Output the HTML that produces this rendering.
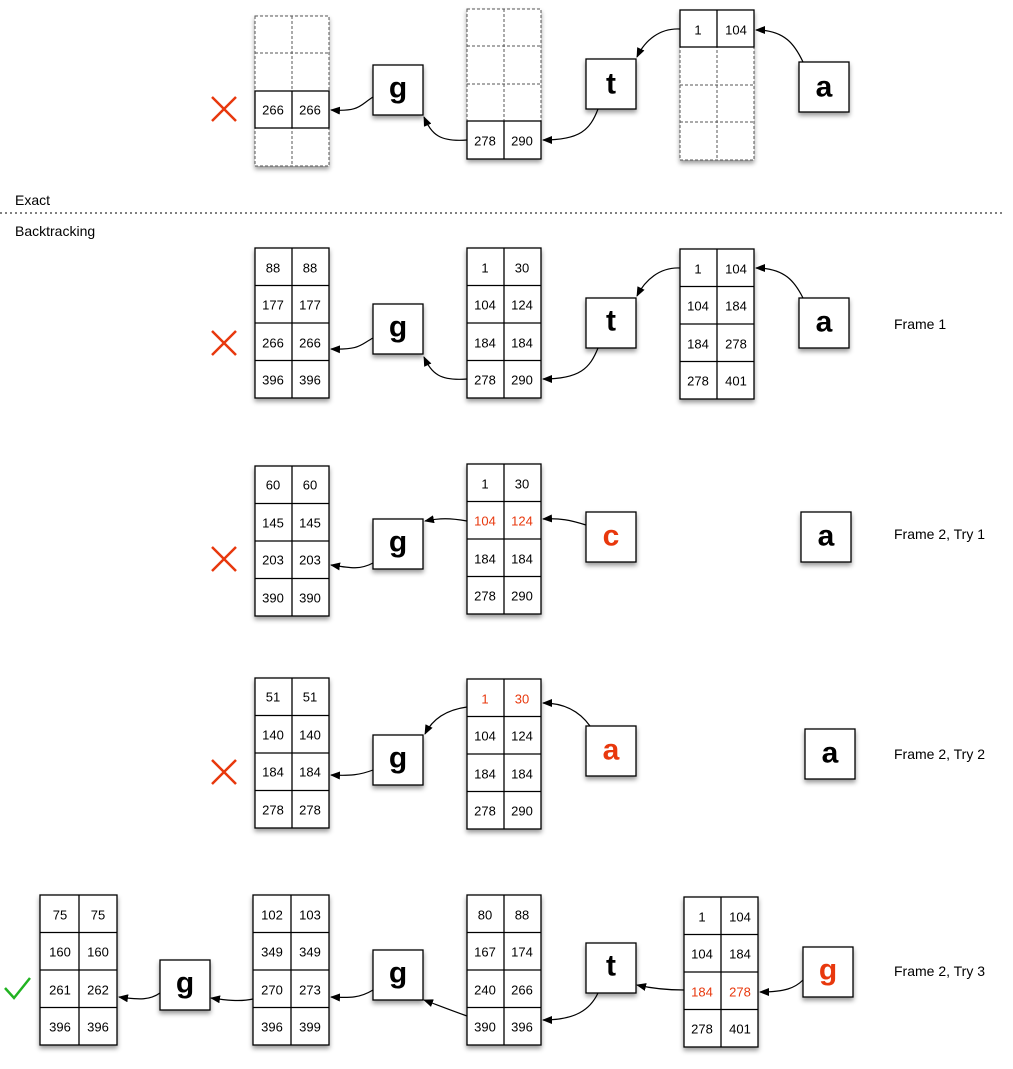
<!DOCTYPE html>
<html><head><meta charset="utf-8"><style>
body{margin:0;background:#fff}
svg{display:block}
text{font-family:"Liberation Sans",sans-serif}
.c{font-size:13px;text-anchor:middle;dominant-baseline:central;fill:#000}
.r{fill:#e8380d}
.b{font-size:30px;font-weight:bold;text-anchor:middle;dominant-baseline:central}
.l{font-size:14px}
.t rect,.bx{fill:#fff;stroke:#000;stroke-width:1.3}
.d{fill:#fff;stroke:#555;stroke-width:1;stroke-dasharray:3,2}
.dl{stroke:#555;stroke-width:1;stroke-dasharray:3,2}
.sl{stroke:#000;stroke-width:1.3}
.a{fill:none;stroke:#000;stroke-width:1.2;marker-end:url(#ar)}
.x{stroke:#e8380d;stroke-width:2.5}
</style></head><body>
<svg width="1013" height="1069" viewBox="0 0 1013 1069">
<defs>
<marker id="ar" markerWidth="10" markerHeight="8" refX="9" refY="4" orient="auto" markerUnits="userSpaceOnUse"><path d="M0,0L10,4L0,8z" fill="#000"/></marker>
<filter id="sh" x="-20%" y="-20%" width="140%" height="140%"><feDropShadow dx="0" dy="3" stdDeviation="2.5" flood-color="#000" flood-opacity="0.4"/></filter>
</defs>

<!-- TOP -->
<g filter="url(#sh)">
<rect class="d" x="255" y="16" width="74" height="150"/>
<rect class="d" x="467" y="9" width="74" height="150"/>
<rect class="d" x="680" y="10" width="74" height="150"/>
</g>
<line class="dl" x1="292" y1="16" x2="292" y2="166"/><line class="dl" x1="255" y1="53" x2="329" y2="53"/><line class="dl" x1="255" y1="91" x2="329" y2="91"/><line class="dl" x1="255" y1="128" x2="329" y2="128"/>
<rect class="bx" x="255" y="91" width="74" height="37"/><line class="sl" x1="292" y1="91" x2="292" y2="128"/>
<text class="c" x="273" y="110">266</text><text class="c" x="310" y="110">266</text>
<line class="dl" x1="504" y1="9" x2="504" y2="159"/><line class="dl" x1="467" y1="46" x2="541" y2="46"/><line class="dl" x1="467" y1="84" x2="541" y2="84"/><line class="dl" x1="467" y1="121" x2="541" y2="121"/>
<rect class="bx" x="467" y="121" width="74" height="38"/><line class="sl" x1="504" y1="121" x2="504" y2="159"/>
<text class="c" x="485" y="141">278</text><text class="c" x="522" y="141">290</text>
<line class="dl" x1="717" y1="10" x2="717" y2="160"/><line class="dl" x1="680" y1="47" x2="754" y2="47"/><line class="dl" x1="680" y1="85" x2="754" y2="85"/><line class="dl" x1="680" y1="122" x2="754" y2="122"/>
<rect class="bx" x="680" y="10" width="74" height="37"/><line class="sl" x1="717" y1="10" x2="717" y2="47"/>
<text class="c" x="698" y="30">1</text><text class="c" x="736" y="30">104</text>
<g filter="url(#sh)">
<rect class="bx" x="373" y="65" width="50" height="50"/>
<rect class="bx" x="586" y="59" width="50" height="50"/>
<rect class="bx" x="799" y="62" width="50" height="50"/>
</g>
<text class="b" x="398" y="88">g</text><text class="b" x="611" y="84">t</text><text class="b" x="824" y="87">a</text>
<path class="a" d="M803,62 C795,45 785,30 756,30"/>
<path class="a" d="M680,29 C660,28 645,40 637,57"/>
<path class="a" d="M598,109 C590,130 580,140 543,140"/>
<path class="a" d="M467,140 C440,142 432,135 424,117"/>
<path class="a" d="M373,97 C360,105 360,112 331,110"/>
<path class="x" d="M212,97L236,121M236,97L212,121"/>

<text class="l" x="15" y="205">Exact</text>
<line x1="0" y1="213" x2="1003" y2="213" stroke="#000" stroke-width="1" stroke-dasharray="2,3"/>
<text class="l" x="15" y="236">Backtracking</text>

<!-- FRAME 1 -->
<g class="t" filter="url(#sh)">
<rect x="255" y="248" width="74" height="150"/><rect x="467" y="248" width="74" height="150"/><rect x="680" y="249" width="74" height="150"/>
<rect x="373" y="304" width="50" height="50"/><rect x="586" y="298" width="50" height="50"/><rect x="799" y="298" width="50" height="50"/>
</g>
<g class="sl">
<line x1="292" y1="248" x2="292" y2="398"/><line x1="255" y1="285.5" x2="329" y2="285.5"/><line x1="255" y1="323" x2="329" y2="323"/><line x1="255" y1="360.5" x2="329" y2="360.5"/>
<line x1="504" y1="248" x2="504" y2="398"/><line x1="467" y1="285.5" x2="541" y2="285.5"/><line x1="467" y1="323" x2="541" y2="323"/><line x1="467" y1="360.5" x2="541" y2="360.5"/>
<line x1="717" y1="249" x2="717" y2="399"/><line x1="680" y1="286.5" x2="754" y2="286.5"/><line x1="680" y1="324" x2="754" y2="324"/><line x1="680" y1="361.5" x2="754" y2="361.5"/>
</g>
<text class="c" x="273" y="268">88</text><text class="c" x="310" y="268">88</text>
<text class="c" x="273" y="305">177</text><text class="c" x="310" y="305">177</text>
<text class="c" x="273" y="343">266</text><text class="c" x="310" y="343">266</text>
<text class="c" x="273" y="380">396</text><text class="c" x="310" y="380">396</text>
<text class="c" x="485" y="268">1</text><text class="c" x="522" y="268">30</text>
<text class="c" x="485" y="305">104</text><text class="c" x="522" y="305">124</text>
<text class="c" x="485" y="343">184</text><text class="c" x="522" y="343">184</text>
<text class="c" x="485" y="380">278</text><text class="c" x="522" y="380">290</text>
<text class="c" x="698" y="269">1</text><text class="c" x="736" y="269">104</text>
<text class="c" x="698" y="306">104</text><text class="c" x="736" y="306">184</text>
<text class="c" x="698" y="344">184</text><text class="c" x="736" y="344">278</text>
<text class="c" x="698" y="381">278</text><text class="c" x="736" y="381">401</text>
<text class="b" x="398" y="327">g</text><text class="b" x="611" y="321">t</text><text class="b" x="824" y="322">a</text>
<path class="a" d="M803,298 C795,282 785,268 756,268"/>
<path class="a" d="M680,268 C660,267 645,280 637,296"/>
<path class="a" d="M598,348 C590,368 580,379 543,379"/>
<path class="a" d="M467,379 C440,381 432,374 424,357"/>
<path class="a" d="M373,338 C360,345 360,350 331,349"/>
<path class="x" d="M212,331L236,355M236,331L212,355"/>
<text class="l" x="894" y="329">Frame 1</text>

<!-- TRY 1 -->
<g class="t" filter="url(#sh)">
<rect x="255" y="466" width="74" height="150"/><rect x="467" y="464" width="74" height="150"/>
<rect x="373" y="519" width="50" height="50"/><rect x="586" y="512" width="50" height="50"/><rect x="801" y="512" width="50" height="50"/>
</g>
<g class="sl">
<line x1="292" y1="466" x2="292" y2="616"/><line x1="255" y1="503.5" x2="329" y2="503.5"/><line x1="255" y1="541" x2="329" y2="541"/><line x1="255" y1="578.5" x2="329" y2="578.5"/>
<line x1="504" y1="464" x2="504" y2="614"/><line x1="467" y1="501.5" x2="541" y2="501.5"/><line x1="467" y1="539" x2="541" y2="539"/><line x1="467" y1="576.5" x2="541" y2="576.5"/>
</g>
<text class="c" x="273" y="485">60</text><text class="c" x="310" y="485">60</text>
<text class="c" x="273" y="523">145</text><text class="c" x="310" y="523">145</text>
<text class="c" x="273" y="560">203</text><text class="c" x="310" y="560">203</text>
<text class="c" x="273" y="598">390</text><text class="c" x="310" y="598">390</text>
<text class="c" x="485" y="484">1</text><text class="c" x="522" y="484">30</text>
<text class="c r" x="485" y="521">104</text><text class="c r" x="522" y="521">124</text>
<text class="c" x="485" y="559">184</text><text class="c" x="522" y="559">184</text>
<text class="c" x="485" y="596">278</text><text class="c" x="522" y="596">290</text>
<text class="b" x="398" y="542">g</text><text class="b r" x="611" y="536">c</text><text class="b" x="826" y="536">a</text>
<path class="a" d="M586,525 C570,520 560,518 543,519"/>
<path class="a" d="M467,521 C450,518 440,518 425,521"/>
<path class="a" d="M373,563 C360,570 350,568 331,565"/>
<path class="x" d="M212,547L236,571M236,547L212,571"/>
<text class="l" x="894" y="539">Frame 2, Try 1</text>

<!-- TRY 2 -->
<g class="t" filter="url(#sh)">
<rect x="255" y="678" width="74" height="150"/><rect x="467" y="679" width="74" height="150"/>
<rect x="373" y="735" width="50" height="50"/><rect x="586" y="726" width="50" height="50"/><rect x="805" y="729" width="50" height="50"/>
</g>
<g class="sl">
<line x1="292" y1="678" x2="292" y2="828"/><line x1="255" y1="715.5" x2="329" y2="715.5"/><line x1="255" y1="753" x2="329" y2="753"/><line x1="255" y1="790.5" x2="329" y2="790.5"/>
<line x1="504" y1="679" x2="504" y2="829"/><line x1="467" y1="716.5" x2="541" y2="716.5"/><line x1="467" y1="754" x2="541" y2="754"/><line x1="467" y1="791.5" x2="541" y2="791.5"/>
</g>
<text class="c" x="273" y="697">51</text><text class="c" x="310" y="697">51</text>
<text class="c" x="273" y="735">140</text><text class="c" x="310" y="735">140</text>
<text class="c" x="273" y="772">184</text><text class="c" x="310" y="772">184</text>
<text class="c" x="273" y="810">278</text><text class="c" x="310" y="810">278</text>
<text class="c r" x="485" y="699">1</text><text class="c r" x="522" y="699">30</text>
<text class="c" x="485" y="736">104</text><text class="c" x="522" y="736">124</text>
<text class="c" x="485" y="774">184</text><text class="c" x="522" y="774">184</text>
<text class="c" x="485" y="811">278</text><text class="c" x="522" y="811">290</text>
<text class="b" x="398" y="758">g</text><text class="b r" x="611" y="750">a</text><text class="b" x="830" y="753">a</text>
<path class="a" d="M590,726 C580,712 565,703 543,703"/>
<path class="a" d="M467,707 C445,710 432,720 425,734"/>
<path class="a" d="M373,770 C360,775 350,776 331,775"/>
<path class="x" d="M212,760L236,784M236,760L212,784"/>
<text class="l" x="894" y="759">Frame 2, Try 2</text>

<!-- TRY 3 -->
<g class="t" filter="url(#sh)">
<rect x="40" y="895" width="77" height="150"/><rect x="253" y="895" width="76" height="150"/><rect x="467" y="895" width="74" height="150"/><rect x="684" y="897" width="74" height="150"/>
<rect x="160" y="960" width="50" height="50"/><rect x="373" y="950" width="50" height="50"/><rect x="586" y="943" width="50" height="50"/><rect x="803" y="947" width="50" height="50"/>
</g>
<g class="sl">
<line x1="79" y1="895" x2="79" y2="1045"/><line x1="40" y1="932.5" x2="117" y2="932.5"/><line x1="40" y1="970" x2="117" y2="970"/><line x1="40" y1="1007.5" x2="117" y2="1007.5"/>
<line x1="291" y1="895" x2="291" y2="1045"/><line x1="253" y1="932.5" x2="329" y2="932.5"/><line x1="253" y1="970" x2="329" y2="970"/><line x1="253" y1="1007.5" x2="329" y2="1007.5"/>
<line x1="504" y1="895" x2="504" y2="1045"/><line x1="467" y1="932.5" x2="541" y2="932.5"/><line x1="467" y1="970" x2="541" y2="970"/><line x1="467" y1="1007.5" x2="541" y2="1007.5"/>
<line x1="721" y1="897" x2="721" y2="1047"/><line x1="684" y1="934.5" x2="758" y2="934.5"/><line x1="684" y1="972" x2="758" y2="972"/><line x1="684" y1="1009.5" x2="758" y2="1009.5"/>
</g>
<text class="c" x="60" y="915">75</text><text class="c" x="98" y="915">75</text>
<text class="c" x="60" y="952">160</text><text class="c" x="98" y="952">160</text>
<text class="c" x="60" y="990">261</text><text class="c" x="98" y="990">262</text>
<text class="c" x="60" y="1027">396</text><text class="c" x="98" y="1027">396</text>
<text class="c" x="272" y="915">102</text><text class="c" x="310" y="915">103</text>
<text class="c" x="272" y="952">349</text><text class="c" x="310" y="952">349</text>
<text class="c" x="272" y="990">270</text><text class="c" x="310" y="990">273</text>
<text class="c" x="272" y="1027">396</text><text class="c" x="310" y="1027">399</text>
<text class="c" x="485" y="915">80</text><text class="c" x="522" y="915">88</text>
<text class="c" x="485" y="952">167</text><text class="c" x="522" y="952">174</text>
<text class="c" x="485" y="990">240</text><text class="c" x="522" y="990">266</text>
<text class="c" x="485" y="1027">390</text><text class="c" x="522" y="1027">396</text>
<text class="c" x="702" y="917">1</text><text class="c" x="740" y="917">104</text>
<text class="c" x="702" y="954">104</text><text class="c" x="740" y="954">184</text>
<text class="c r" x="702" y="992">184</text><text class="c r" x="740" y="992">278</text>
<text class="c" x="702" y="1029">278</text><text class="c" x="740" y="1029">401</text>
<text class="b" x="185" y="983">g</text><text class="b" x="398" y="973">g</text><text class="b" x="611" y="966">t</text><text class="b r" x="828" y="970">g</text>
<path class="a" d="M803,980 C795,988 785,992 760,992"/>
<path class="a" d="M684,990 C665,990 650,988 637,985"/>
<path class="a" d="M598,993 C590,1010 575,1020 543,1020"/>
<path class="a" d="M467,1016 C450,1010 440,1006 424,1000"/>
<path class="a" d="M373,990 C360,998 350,998 331,997"/>
<path class="a" d="M253,999 C240,1002 225,1000 211,998"/>
<path class="a" d="M160,993 C150,1000 140,1000 119,997"/>
<path d="M5,988L14,998L30,978" fill="none" stroke="#22b322" stroke-width="2.5"/>
<text class="l" x="894" y="976">Frame 2, Try 3</text>
</svg>
</body></html>
